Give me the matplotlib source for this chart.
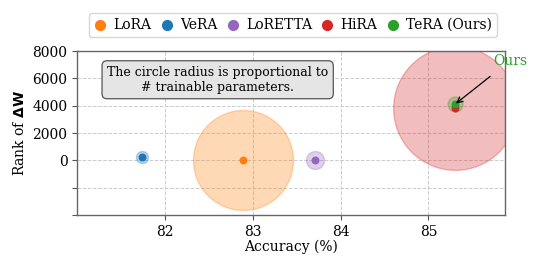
import matplotlib
matplotlib.use("Agg")
import matplotlib.pyplot as plt
import numpy as np

plt.rcParams["font.family"] = ["DejaVu Serif"]

# accuracy (%), rank of delta W, trainable params (M, relative)
methods  = ["LoRA", "VeRA", "LoRETTA", "HiRA", "TeRA (Ours)"]
colors   = ["tab:orange", "tab:blue", "tab:purple", "tab:red", "tab:green"]
accuracy = [82.89, 81.74, 83.71, 85.30, 85.30]
rank     = [0, 256, 0, 3840, 4096]
params_m = [0.80, 0.096, 0.144, 0.99, 0.12]

RADIUS_PT_PER_M = 45.0  # circle radius in points per million params

fig = plt.figure(figsize=(5.47, 2.73), dpi=100)
ax = fig.add_axes([0.141, 0.2125, 0.782, 0.6005])

for name, c, x, y, p in zip(methods, colors, accuracy, rank, params_m):
    r = RADIUS_PT_PER_M * p
    ax.scatter(x, y, s=(2 * r) ** 2, color=c, alpha=0.3, zorder=2)
    ax.scatter(x, y, s=22, color=c, label=name, zorder=3)

ax.annotate("Ours", xy=(accuracy[4], rank[4]), xytext=(85.93, 7300),
            color="tab:green", fontsize=10, ha="center", va="center",
            arrowprops=dict(arrowstyle="->", color="black", lw=0.9,
                            shrinkA=7, shrinkB=1))

ax.text(82.6, 5900, "The circle radius is proportional to\n# trainable parameters.",
        ha="center", va="center", multialignment="center", fontsize=9,
        bbox=dict(boxstyle="round,pad=0.4", fc="#e5e5e5", ec="#555555", lw=0.9))

ax.set_xlim(81.0, 85.87)
ax.set_ylim(-4000, 8000)
ax.set_xticks([82, 83, 84, 85])
ax.set_yticks([-4000, -2000, 0, 2000, 4000, 6000, 8000])
ax.set_yticklabels(["", "", "0", "2000", "4000", "6000", "8000"])
ax.tick_params(labelsize=10, colors="#555555", labelcolor="black")
ax.set_xlabel("Accuracy (%)", fontsize=10, labelpad=1)
ax.set_ylabel(r"Rank of $\mathbf{\Delta W}$", fontsize=10, labelpad=4)
ax.grid(True, ls="--", color="#cccccc", lw=0.7, zorder=0)
ax.set_axisbelow(True)
for sp in ax.spines.values():
    sp.set_color("#666666")
    sp.set_linewidth(1.0)

fig.legend(loc="center", bbox_to_anchor=(0.535, 0.908), ncol=5, fontsize=10,
           handletextpad=0.45, columnspacing=0.6, frameon=True, markerscale=1.5,
           handlelength=1.0, borderpad=0.35)

fig.savefig("out.png", dpi=100)
